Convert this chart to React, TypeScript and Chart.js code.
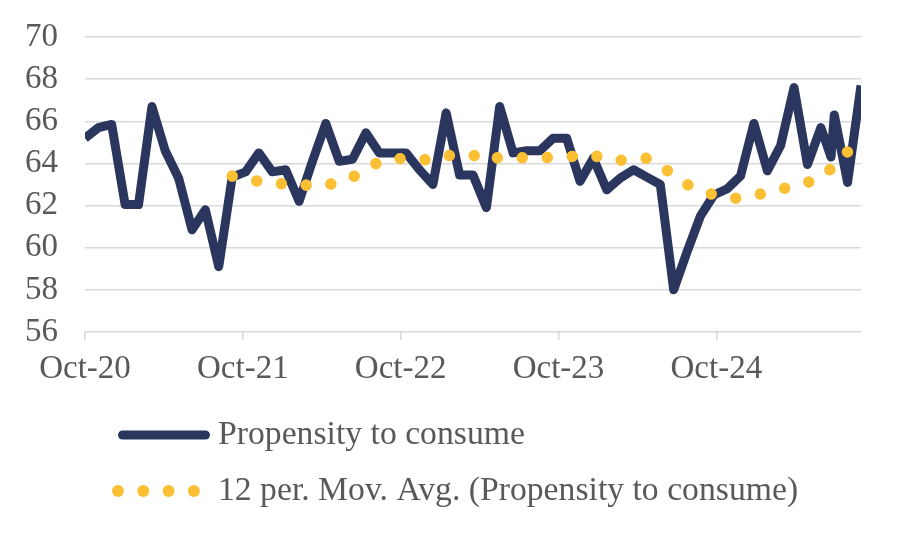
import { useEffect, useRef } from "react";
import { Chart, registerables } from "chart.js";

Chart.register(...registerables);

const obsMonth = [
  0, 1.02, 2.03, 3.05, 4.07, 5.09, 6.1, 7.12, 8.14, 9.15,
  10.17, 11.19, 12.21, 13.22, 14.24, 15.26, 16.28, 17.29, 18.31, 19.33,
  20.34, 21.36, 22.38, 23.4, 24.41, 25.43, 26.45, 27.46, 28.48, 29.5,
  30.52, 31.53, 32.55, 33.57, 34.58, 35.6, 36.62, 37.64, 38.65, 39.67,
  40.69, 41.71, 42.72, 43.74, 44.76, 45.77, 46.79, 47.81, 48.83, 49.84,
  50.86, 51.88, 52.89, 53.91, 54.93, 55.95, 56.72, 56.97, 57.98, 59.0,
];

const propensity = [
  65.2, 65.7, 65.85, 62.05, 62.05, 66.7, 64.6, 63.3, 60.85, 61.8,
  59.1, 63.35, 63.6, 64.5, 63.6, 63.7, 62.2, 64.1, 65.9, 64.1,
  64.2, 65.45, 64.5, 64.5, 64.5, 63.7, 63.0, 66.4, 63.45, 63.45,
  61.9, 66.7, 64.5, 64.6, 64.6, 65.2, 65.2, 63.15, 64.25, 62.75,
  63.3, 63.7, 63.35, 63.0, 58.0, 59.8, 61.5, 62.5, 62.8, 63.4,
  65.9, 63.65, 64.85, 67.6, 63.95, 65.7, 64.3, 66.3, 63.1, 67.7,
];

const movAvg12 = [
  null, null, null, null, null, null, null, null, null, null,
  null, 63.4, 63.25, 63.15, 63.0, 63.05, 63.05, 62.9, 63.0, 63.05,
  63.35, 63.7, 64.1, 64.2, 64.25, 64.2, 64.15, 64.35, 64.45, 64.4,
  64.1, 64.3, 64.3, 64.25, 64.25, 64.3, 64.35, 64.3, 64.4, 64.15,
  64.15, 64.15, 64.25, 63.95, 63.4, 63.0, 62.75, 62.5, 62.35, 62.35,
  62.5, 62.6, 62.75, 63.0, 63.1, 63.3, 63.75, 63.95, 64.55, 64.9,
];

const tickMonths = [0, 12, 24, 36, 48];
const tickLabels = ["Oct-20", "Oct-21", "Oct-22", "Oct-23", "Oct-24"];
const seriesNames = [
  "Propensity to consume",
  "12 per. Mov. Avg. (Propensity to consume)",
];

const FONT = "'Liberation Serif', 'Times New Roman', serif";
const FONT_SIZE = 33;
const LEGEND_FONT_SIZE = 33.7;
const TEXT = "#595959";
const NAVY = "#2B365F";
const GOLD = "#FBBF33";
const GRID = "#D9D9D9";

const legendPlugin = {
  id: "stackedLegend",
  afterDraw(chart: any) {
    const ctx = chart.ctx as CanvasRenderingContext2D;
    const rows = [435, 491];
    const startX = 118;
    const textX = 218;
    ctx.save();
    ctx.font = `${LEGEND_FONT_SIZE}px ${FONT}`;
    ctx.textBaseline = "middle";
    ctx.textAlign = "left";
    chart.data.datasets.forEach((ds: any, i: number) => {
      const y = rows[i];
      if (ds.borderDash && ds.borderDash.length) {
        ctx.fillStyle = ds.borderColor;
        for (let k = 0; k < 4; k++) {
          ctx.beginPath();
          ctx.arc(startX + k * 25.3, y, 6, 0, Math.PI * 2);
          ctx.fill();
        }
      } else {
        ctx.strokeStyle = ds.borderColor;
        ctx.lineWidth = 9;
        ctx.lineCap = "round";
        ctx.beginPath();
        ctx.moveTo(startX + 4.5, y);
        ctx.lineTo(210 - 4.5, y);
        ctx.stroke();
      }
      ctx.fillStyle = TEXT;
      ctx.fillText(ds.label, textX, y);
    });
    ctx.restore();
  },
};

export default function App() {
  const canvasRef = useRef<HTMLCanvasElement | null>(null);

  useEffect(() => {
    if (!canvasRef.current) return;
    const chart = new Chart(canvasRef.current, {
      type: "line",
      data: {
        datasets: [
          {
            label: seriesNames[0],
            data: obsMonth.map((m, i) => ({ x: m, y: propensity[i] })),
            borderColor: NAVY,
            borderWidth: 9,
            borderJoinStyle: "round",
            borderCapStyle: "butt",
            pointRadius: 0,
            tension: 0,
            order: 2,
          },
          {
            label: seriesNames[1],
            data: obsMonth.map((m, i) => ({ x: m, y: movAvg12[i] })),
            borderColor: GOLD,
            borderWidth: 11.5,
            borderCapStyle: "round",
            borderDash: [0.001, 25.05],
            pointRadius: 0,
            tension: 0,
            spanGaps: false,
            order: 1,
          },
        ],
      },
      options: {
        animation: false,
        responsive: false,
        devicePixelRatio: 1,
        layout: { padding: { left: 0, right: 39, top: 37, bottom: 141 } },
        plugins: {
          legend: { display: false },
          tooltip: { enabled: false },
        },
        scales: {
          x: {
            type: "linear",
            min: 0,
            max: 59,
            afterBuildTicks: (scale: any) => {
              scale.ticks = tickMonths.map((v) => ({ value: v }));
            },
            afterFit: (scale: any) => {
              scale.height = 60;
              scale.paddingLeft = 0;
              scale.paddingRight = 0;
            },
            grid: {
              drawOnChartArea: false,
              drawTicks: true,
              tickLength: 8,
              color: GRID,
              lineWidth: 1.5,
            },
            border: { display: false },
            ticks: {
              padding: 10,
              color: TEXT,
              maxRotation: 0,
              autoSkip: false,
              font: { family: FONT, size: FONT_SIZE },
              callback: (v: any) => {
                const k = tickMonths.indexOf(Number(v));
                return k >= 0 ? tickLabels[k] : "";
              },
            },
          },
          y: {
            min: 56,
            max: 70,
            afterFit: (scale: any) => {
              scale.width = 85;
              scale.paddingTop = 0;
              scale.paddingBottom = 0;
            },
            grid: { color: GRID, lineWidth: 1.5, drawTicks: false },
            border: { display: false },
            ticks: {
              stepSize: 2,
              padding: 27,
              autoSkip: false,
              color: TEXT,
              font: { family: FONT, size: FONT_SIZE },
            },
          },
        },
      },
      plugins: [legendPlugin],
    });
    return () => chart.destroy();
  }, []);

  return (
    <div style={{ position: "absolute", left: 0, top: 0, width: 900, height: 533, background: "#fff" }}>
      <canvas ref={canvasRef} width={900} height={533} style={{ display: "block", width: 900, height: 533 }} />
    </div>
  );
}
